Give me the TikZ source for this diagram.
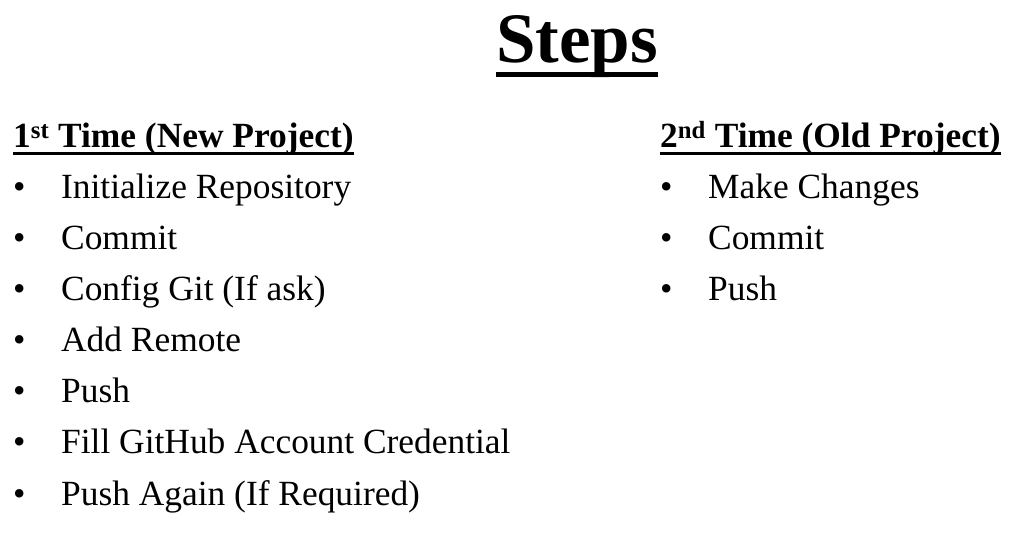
\documentclass[tikz,border=0pt]{standalone}
\usepackage{fontspec}
\setmainfont{Liberation Serif}
\usepackage{tikz}
\usetikzlibrary{positioning}
\tikzstyle{title} = [inner sep=0pt, anchor=base west, font=\fontsize{71}{80}\selectfont\bfseries]
\tikzstyle{heading} = [inner sep=0pt, anchor=base west, font=\fontsize{35.4}{42}\selectfont\bfseries]
\tikzstyle{item} = [inner sep=0pt, font=\fontsize{35.4}{42}\selectfont]
\tikzstyle{uline} = [line width=2.5pt]
\newcommand{\bul}{\makebox[48pt][l]{\textbullet}}
\def\gap{51pt}

\begin{document}
\begin{tikzpicture}
\fill[white] (0,0) rectangle (1026pt,544pt);
\useasboundingbox (0,0) rectangle (1026pt,544pt);

\node (steps) [title] at (496pt,481pt) {Steps};
\draw [uline, line width=5pt] ([yshift=-11.5pt]steps.base west) -- ([yshift=-11.5pt]steps.base east);

% first time
\node (first) [heading] at (13pt,396pt) {1\textsuperscript{st} Time (New Project)};
\draw [uline] ([yshift=-5.5pt]first.base west) -- ([yshift=-5.5pt]first.base east);
\node (f1) [item, anchor=base west] at (13pt,345pt) {\bul Initialize Repository};
\node (f2) [item, below=\gap of f1.base west, anchor=base west] {\bul Commit};
\node (f3) [item, below=\gap of f2.base west, anchor=base west] {\bul Config Git (If ask)};
\node (f4) [item, below=\gap of f3.base west, anchor=base west] {\bul Add Remote};
\node (f5) [item, below=\gap of f4.base west, anchor=base west] {\bul Push};
\node (f6) [item, below=\gap of f5.base west, anchor=base west] {\bul Fill GitHub Account Credential};
\node (f7) [item, below=\gap of f6.base west, anchor=base west] {\bul Push Again (If Required)};

% second time
\node (second) [heading] at (660pt,396pt) {2\textsuperscript{nd} Time (Old Project)};
\draw [uline] ([yshift=-5.5pt]second.base west) -- ([yshift=-5.5pt]second.base east);
\node (s1) [item, anchor=base west] at (660pt,345pt) {\bul Make Changes};
\node (s2) [item, below=\gap of s1.base west, anchor=base west] {\bul Commit};
\node (s3) [item, below=\gap of s2.base west, anchor=base west] {\bul Push};

\end{tikzpicture}
\end{document}
